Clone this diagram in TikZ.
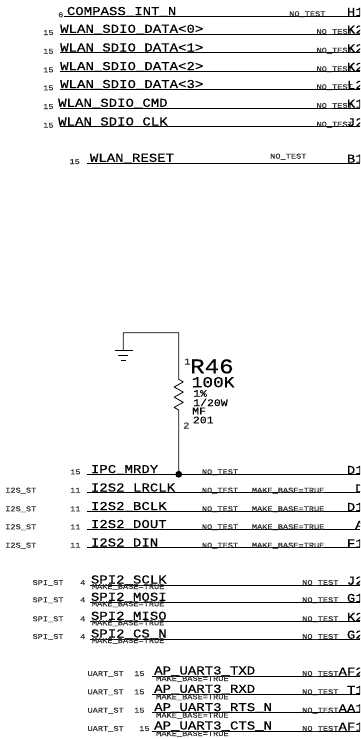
\documentclass[tikz,border=0pt]{standalone}
\usepackage{fontspec}
\newfontfamily\schfont[FakeStretch=1.15,FakeBold=0.25]{Liberation Mono}
\newcommand{\fs}[1]{\fontsize{#1}{#1}\selectfont}
\tikzset{
  netname/.style={anchor=base west,inner sep=0pt,font=\schfont\fs{12.2}},
  pinname/.style={anchor=base west,inner sep=0pt,font=\schfont\fs{12.2}},
  tiny/.style={anchor=base west,inner sep=0pt,font=\schfont\fs{7.5},text=black!80},
  wire/.style={line width=0.9pt}
}
\begin{document}
\begin{tikzpicture}[x=1pt,y=-1pt,line join=round,line cap=butt]
\useasboundingbox (0,0) rectangle (360,739);
\clip (0,0) rectangle (360,739);
% wlan nets
\foreach \n/\y/\xs/\xt/\name/\xp/\pg/\xq/\pin in {
  a/16.3/64/66.7/COMPASS\_INT\_N/58/6/289/H1,
  b/34/60/60/WLAN\_SDIO\_DATA<0>/43/15/316.3/K2,
  c/52.7/60/60/WLAN\_SDIO\_DATA<1>/43/15/316.3/K2,
  d/71.3/60/60/WLAN\_SDIO\_DATA<2>/43/15/316.3/K2,
  e/89.3/60/60/WLAN\_SDIO\_DATA<3>/43/15/316.3/L2,
  f/108/60/58/WLAN\_SDIO\_CMD/43/15/316.3/K1,
  g/126.7/60/58/WLAN\_SDIO\_CLK/43/15/316.3/J2}
{
  \coordinate (s\n) at (\xs,\y);
  \coordinate (t\n) at (360,\y);
  \draw[wire] (s\n)--(t\n);
  \node[netname] (net\n) at (\xt,\y-1.2) {\name};
  \node[tiny] (pg\n) at (\xp,\y+1) {\pg};
  \node[tiny] (nt\n) at (\xq,\y) {NO\_TEST};
  \node[pinname] (pin\n) at (346.7,\y-0.3) {\pin};
}
\coordinate (srst) at (87.3,163);
\coordinate (trst) at (360,163);
\draw[wire] (srst)--(trst);
\node[netname] (netrst) at (89.7,161.8) {WLAN\_RESET};
\node[tiny] (pgrst) at (69.3,164) {15};
\node[tiny] (ntrst) at (270,158.7) {NO\_TEST};
\node[pinname] (pinrst) at (346.7,162.7) {B1};
% resistor
\coordinate (rtop) at (178.7,379.3);
\coordinate (rbot) at (178.7,410);
\coordinate (gcor) at (178.7,332.7);
\coordinate (gtop) at (123.3,332.7);
\coordinate (gnd) at (123.3,350.5);
\coordinate (mrdy) at (178.7,474.3);
\draw[wire,line width=0.8pt] (gnd)--(gtop)--(gcor)--(rtop)--++(4.6,2.6)--++(-9.2,5.1)--++(9.2,5.1)--++(-9.2,5.1)--++(9.2,5.1)--++(-9.2,5.1)--(rbot)--(mrdy);
\draw[wire] (114.7,350.5)--(132.7,350.5);
\draw[wire] (118.3,355.3)--(128.3,355.3);
\draw[wire] (121.3,360)--(125.6,360);
\fill (mrdy) circle (3.4);
\node[tiny,font=\schfont\fs{9}] (pone) at (184,364.5) {1};
\node[tiny,font=\schfont\fs{9}] (ptwo) at (183,428.5) {2};
\node[netname,font=\schfont\fs{21}] (rname) at (190,373.3) {R46};
\node[netname,font=\schfont\fs{15.5}] (rval) at (191.5,387.3) {100K};
\node[tiny,font=\schfont\fs{10},text=black] (rtol) at (193,396.7) {1\%};
\node[tiny,font=\schfont\fs{10},text=black] (rpow) at (193,406) {1/20W};
\node[tiny,font=\schfont\fs{10},text=black] (rmf) at (192,414.3) {MF};
\node[tiny,font=\schfont\fs{10},text=black] (rpkg) at (192.7,423.3) {201};
% i2s nets
\foreach \n/\y/\name/\pg/\xq/\pin in {
  h/474.3/IPC\_MRDY/15/346.7/D1,
  i/492.7/I2S2\_LRCLK/11/355/D,
  j/511.3/I2S2\_BCLK/11/346.7/D1,
  k/529.3/I2S2\_DOUT/11/355/A,
  l/547.7/I2S2\_DIN/11/346.7/F1}
{
  \coordinate (s\n) at (87.3,\y);
  \coordinate (t\n) at (360,\y);
  \draw[wire] (s\n)--(t\n);
  \node[netname] (net\n) at (90.7,\y-1.2) {\name};
  \node[tiny] (pg\n) at (70,\y) {\pg};
  \node[tiny] (nt\n) at (201.7,\y) {NO\_TEST};
  \node[pinname] (pin\n) at (\xq,\y-0.3) {\pin};
}
\foreach \n/\y in {i/492.7,j/511.3,k/529.3,l/547.7}
{
  \node[tiny] (st\n) at (5,\y) {I2S\_ST};
  \node[tiny] (mb\n) at (251.7,\y) {MAKE\_BASE=TRUE};
}
% spi nets
\foreach \n/\y/\name/\pin in {
  m/585/SPI2\_SCLK/J2,
  o/602.3/SPI2\_MOSI/G1,
  p/621.3/SPI2\_MISO/K2,
  q/639/SPI2\_CS\_N/G2}
{
  \coordinate (s\n) at (90,\y);
  \coordinate (t\n) at (360,\y);
  \draw[wire] (s\n)--(t\n);
  \node[netname] (net\n) at (90.7,\y-1.5) {\name};
  \node[tiny] (st\n) at (32.3,\y) {SPI\_ST};
  \node[tiny] (pg\n) at (80,\y) {4};
  \node[tiny] (mb\n) at (91.7,\y+4) {MAKE\_BASE=TRUE};
  \node[tiny] (nt\n) at (302,\y) {NO\_TEST};
  \node[pinname] (pin\n) at (346.7,\y-0.3) {\pin};
}
% uart nets
\foreach \n/\y/\name/\xp/\xq/\pin in {
  r/676/AP\_UART3\_TXD/134/338.3/AF2,
  u/694.3/AP\_UART3\_RXD/134/346.7/T1,
  v/712.7/AP\_UART3\_RTS\_N/134/338.3/AA1,
  w/731/AP\_UART3\_CTS\_N/139/338.3/AF1}
{
  \coordinate (s\n) at (151.7,\y);
  \coordinate (t\n) at (360,\y);
  \draw[wire] (s\n)--(t\n);
  \node[netname] (net\n) at (154,\y-1.5) {\name};
  \node[tiny] (st\n) at (87.3,\y) {UART\_ST};
  \node[tiny] (pg\n) at (\xp,\y) {15};
  \node[tiny] (mb\n) at (156,\y+5) {MAKE\_BASE=TRUE};
  \node[tiny] (nt\n) at (302,\y) {NO\_TEST};
  \node[pinname] (pin\n) at (\xq,\y-0.3) {\pin};
}
\end{tikzpicture}
\end{document}
